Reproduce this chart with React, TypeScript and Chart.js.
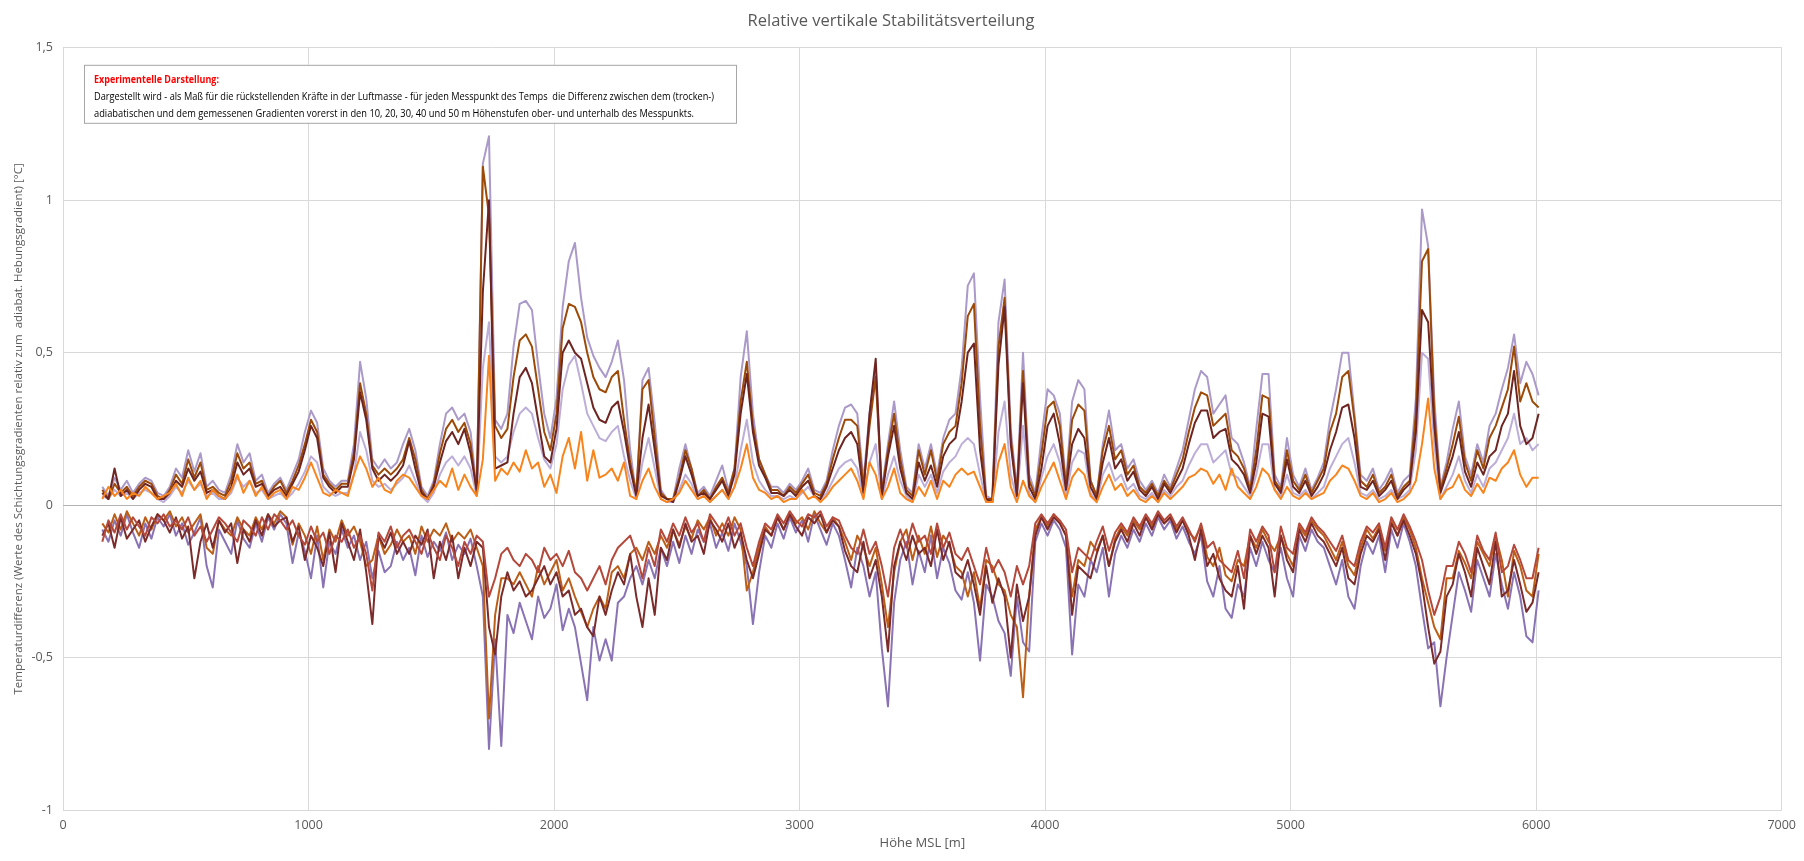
import React, { useEffect, useRef } from "react";
import { Chart, registerables } from "chart.js";

Chart.register(...registerables);

// Höhenstufen der Messpunkte (m MSL): alle 25 m von 160 bis 6010
const HEIGHT_START = 160;
const HEIGHT_STEP = 25;
const HEIGHT_COUNT = 235;
const heights: number[] = Array.from({ length: HEIGHT_COUNT }, (_, i) => HEIGHT_START + i * HEIGHT_STEP);

const xTicks = [0, 1000, 2000, 3000, 4000, 5000, 6000, 7000];
const yTicks = [-1, -0.5, 0, 0.5, 1, 1.5];

// Werte in 1/100 °C
const above50 = [
  6, 3, 9, 5, 8, 4, 7, 9, 8, 4, 3, 6, 12, 9, 18, 11, 17, 6, 8, 5,
  4, 10, 20, 14, 17, 8, 10, 4, 7, 9, 5, 10, 15, 24, 31, 27, 12, 8, 6, 8,
  8, 20, 47, 35, 15, 12, 15, 12, 14, 20, 25, 18, 6, 3, 8, 20, 30, 32, 28, 30,
  24, 5, 112, 121, 28, 25, 30, 52, 66, 67, 64, 46, 30, 22, 35, 65, 80, 86, 68, 55,
  49, 45, 42, 47, 54, 41, 18, 3, 41, 45, 27, 5, 2, 2, 12, 20, 12, 4, 6, 3,
  8, 13, 5, 12, 42, 57, 30, 15, 10, 6, 6, 4, 7, 5, 8, 12, 5, 4, 8, 18,
  26, 32, 33, 30, 8, 30, 45, 5, 20, 34, 18, 6, 4, 20, 12, 20, 10, 22, 28, 30,
  45, 72, 76, 35, 3, 2, 60, 74, 25, 5, 50, 10, 4, 22, 38, 36, 30, 7, 34, 41,
  38, 8, 3, 20, 31, 18, 20, 12, 15, 8, 5, 8, 4, 10, 6, 12, 18, 28, 38, 44,
  42, 30, 33, 36, 22, 20, 14, 6, 25, 43, 43, 10, 6, 22, 10, 6, 12, 5, 9, 14,
  28, 38, 50, 50, 30, 10, 8, 12, 5, 8, 12, 4, 8, 10, 35, 97, 85, 35, 6, 14,
  25, 34, 16, 10, 20, 14, 26, 30, 38, 45, 56, 40, 47, 43, 36,
];
const above40 = [
  5, 2, 7, 4, 6, 3, 6, 8, 7, 3, 2, 5, 10, 7, 15, 9, 14, 5, 6, 4,
  3, 8, 17, 12, 14, 7, 8, 3, 6, 8, 4, 8, 13, 20, 28, 24, 10, 7, 5, 7,
  7, 17, 40, 30, 13, 10, 12, 10, 12, 15, 22, 15, 5, 2, 7, 17, 25, 28, 24, 27,
  20, 4, 111, 95, 26, 22, 25, 42, 54, 56, 52, 38, 24, 18, 30, 58, 66, 65, 60, 50,
  42, 38, 37, 42, 44, 28, 14, 4, 38, 41, 22, 4, 2, 2, 9, 18, 12, 3, 5, 2,
  6, 9, 4, 12, 34, 47, 26, 15, 10, 5, 5, 3, 6, 4, 7, 10, 4, 3, 7, 15,
  22, 28, 28, 26, 6, 26, 42, 4, 18, 30, 15, 5, 3, 18, 10, 18, 8, 20, 24, 26,
  40, 62, 66, 26, 2, 2, 52, 68, 22, 4, 44, 8, 3, 17, 32, 34, 26, 6, 28, 33,
  31, 8, 3, 18, 26, 15, 18, 10, 13, 6, 4, 7, 3, 8, 5, 10, 15, 24, 32, 37,
  36, 26, 28, 30, 18, 16, 12, 5, 18, 36, 35, 8, 5, 18, 8, 5, 10, 4, 8, 12,
  24, 30, 42, 44, 28, 8, 6, 10, 4, 6, 10, 3, 6, 8, 30, 80, 84, 30, 5, 12,
  20, 29, 14, 8, 18, 12, 22, 26, 32, 38, 52, 34, 40, 34, 32,
];
const above30 = [
  4, 2, 12, 3, 5, 2, 5, 7, 6, 2, 2, 4, 8, 6, 12, 8, 11, 4, 5, 3,
  2, 6, 14, 10, 12, 6, 7, 3, 5, 6, 3, 7, 11, 18, 26, 22, 9, 6, 4, 6,
  6, 15, 37, 28, 12, 8, 10, 8, 10, 13, 21, 12, 4, 2, 6, 14, 21, 24, 20, 25,
  17, 5, 70, 100, 12, 13, 14, 30, 42, 45, 40, 28, 16, 14, 25, 50, 54, 50, 48, 40,
  32, 28, 27, 32, 34, 24, 12, 3, 22, 33, 18, 3, 2, 1, 8, 16, 10, 3, 4, 2,
  5, 8, 3, 10, 30, 43, 24, 13, 9, 4, 4, 3, 5, 3, 6, 8, 3, 2, 6, 12,
  18, 22, 24, 20, 4, 30, 48, 3, 16, 26, 12, 4, 2, 14, 8, 13, 6, 16, 20, 22,
  34, 50, 53, 18, 2, 1, 46, 65, 20, 3, 40, 6, 2, 12, 26, 30, 20, 5, 20, 25,
  22, 6, 2, 14, 22, 12, 15, 8, 11, 5, 3, 6, 2, 7, 4, 8, 12, 20, 27, 31,
  31, 22, 24, 25, 15, 13, 10, 4, 14, 30, 29, 7, 4, 15, 6, 4, 8, 3, 6, 10,
  18, 24, 32, 33, 22, 6, 5, 8, 3, 5, 8, 2, 5, 7, 24, 64, 60, 26, 4, 10,
  16, 24, 11, 6, 14, 10, 16, 18, 26, 30, 44, 26, 20, 22, 30,
];
const above20 = [
  3, 2, 5, 3, 4, 2, 4, 5, 4, 2, 1, 3, 6, 4, 8, 5, 7, 3, 4, 2,
  2, 4, 9, 6, 8, 4, 5, 2, 3, 4, 2, 4, 7, 11, 16, 14, 6, 4, 3, 4,
  4, 10, 24, 18, 8, 6, 7, 5, 7, 9, 13, 8, 3, 1, 4, 10, 14, 16, 13, 16,
  12, 3, 45, 60, 16, 14, 16, 24, 30, 32, 30, 22, 15, 12, 20, 38, 46, 49, 40, 30,
  26, 22, 21, 24, 26, 16, 8, 2, 14, 22, 12, 2, 1, 1, 5, 10, 7, 2, 3, 1,
  3, 5, 2, 6, 18, 28, 14, 8, 5, 3, 3, 2, 3, 2, 4, 6, 3, 2, 4, 8,
  12, 14, 15, 12, 3, 14, 20, 2, 10, 16, 8, 3, 1, 10, 6, 10, 4, 11, 14, 16,
  20, 22, 20, 10, 1, 1, 24, 34, 10, 2, 26, 4, 1, 9, 16, 20, 14, 3, 14, 18,
  17, 4, 1, 10, 14, 8, 10, 5, 7, 3, 2, 4, 1, 5, 3, 6, 8, 13, 17, 20,
  20, 14, 16, 18, 10, 9, 6, 3, 10, 20, 20, 5, 3, 10, 4, 3, 5, 2, 4, 6,
  12, 16, 20, 22, 14, 4, 3, 5, 2, 3, 5, 2, 3, 5, 18, 50, 48, 20, 2, 6,
  10, 16, 8, 4, 10, 6, 12, 14, 18, 22, 30, 20, 22, 18, 20,
];
const above10 = [
  2, 6, 3, 5, 2, 4, 3, 6, 4, 2, 3, 4, 7, 3, 9, 5, 8, 2, 5, 3,
  2, 5, 10, 4, 8, 3, 6, 2, 4, 5, 2, 6, 5, 9, 14, 9, 4, 3, 5, 4,
  3, 10, 16, 12, 6, 9, 5, 4, 8, 10, 9, 6, 3, 2, 5, 8, 6, 12, 5, 10,
  6, 3, 15, 49, 8, 12, 10, 14, 11, 18, 12, 14, 6, 10, 4, 16, 22, 12, 24, 8,
  18, 9, 10, 12, 8, 14, 3, 2, 8, 12, 6, 2, 1, 2, 4, 8, 5, 2, 3, 1,
  3, 5, 2, 6, 12, 20, 9, 5, 4, 2, 3, 1, 2, 2, 5, 2, 3, 1, 3, 6,
  8, 10, 12, 8, 2, 14, 10, 2, 6, 12, 4, 2, 1, 6, 3, 8, 2, 8, 6, 10,
  12, 10, 11, 6, 1, 1, 14, 20, 6, 1, 8, 3, 1, 6, 10, 14, 8, 2, 9, 12,
  10, 3, 1, 6, 10, 5, 7, 3, 5, 2, 1, 3, 1, 4, 2, 4, 6, 9, 10, 12,
  11, 7, 10, 5, 12, 6, 4, 2, 6, 12, 10, 5, 2, 6, 3, 2, 4, 2, 3, 4,
  8, 10, 13, 12, 8, 3, 2, 4, 1, 2, 4, 1, 2, 4, 8, 20, 35, 12, 2, 5,
  6, 10, 5, 3, 7, 4, 9, 8, 12, 14, 18, 10, 6, 9, 9,
];
const below50 = [
  -8, -12, -5, -10, -3, -9, -14, -6, -11, -4, -7, -3, -10, -6, -13, -9, -4, -20, -27, -8,
  -12, -16, -5, -11, -14, -6, -12, -4, -8, -3, -6, -19, -9, -15, -24, -10, -27, -12, -16, -8,
  -14, -10, -18, -12, -24, -15, -22, -20, -12, -18, -14, -23, -10, -17, -12, -15, -9, -18, -13, -16,
  -11, -20, -30, -80, -44, -79, -36, -42, -32, -38, -44, -30, -37, -34, -26, -41, -34, -40, -52, -64,
  -40, -51, -44, -51, -32, -30, -24, -20, -26, -18, -24, -14, -20, -12, -19, -10, -16, -8, -12, -6,
  -14, -9, -15, -6, -12, -20, -39, -22, -10, -14, -6, -11, -4, -9, -5, -12, -3, -8, -13, -6,
  -10, -18, -27, -14, -20, -30, -22, -47, -66, -32, -18, -12, -26, -15, -22, -10, -24, -14, -19, -28,
  -31, -22, -32, -51, -26, -30, -38, -42, -56, -30, -45, -48, -12, -6, -10, -5, -8, -14, -49, -26,
  -30, -18, -22, -14, -30, -16, -10, -14, -8, -12, -6, -10, -4, -8, -5, -11, -7, -12, -16, -10,
  -25, -30, -20, -34, -37, -26, -30, -14, -20, -12, -18, -22, -14, -24, -30, -10, -15, -8, -12, -14,
  -20, -26, -18, -30, -34, -20, -12, -16, -10, -22, -8, -14, -6, -12, -20, -34, -47, -45, -66, -50,
  -36, -22, -28, -35, -18, -24, -30, -16, -26, -34, -22, -30, -43, -45, -28,
];
const below40 = [
  -10, -6, -14, -4, -11, -8, -5, -12, -7, -3, -5, -9, -4, -11, -7, -24, -12, -6, -14, -5,
  -9, -6, -19, -8, -12, -5, -10, -3, -7, -5, -4, -12, -7, -18, -10, -14, -20, -9, -22, -6,
  -12, -18, -8, -22, -39, -10, -14, -9, -16, -12, -16, -10, -13, -8, -24, -12, -18, -10, -24, -14,
  -20, -12, -14, -40, -49, -30, -22, -28, -25, -30, -28, -24, -20, -26, -22, -30, -28, -36, -34, -40,
  -43, -30, -36, -28, -22, -26, -16, -30, -40, -24, -36, -14, -18, -8, -14, -6, -12, -10, -16, -5,
  -8, -12, -6, -14, -9, -18, -24, -16, -8, -10, -4, -8, -3, -7, -10, -4, -6, -3, -9, -5,
  -7, -15, -20, -22, -12, -24, -18, -30, -48, -20, -12, -18, -10, -16, -14, -20, -8, -18, -12, -22,
  -24, -18, -26, -36, -20, -32, -24, -30, -50, -26, -38, -30, -10, -4, -8, -4, -6, -10, -36, -20,
  -22, -24, -16, -10, -20, -12, -8, -12, -6, -10, -4, -8, -3, -6, -4, -9, -5, -10, -18, -8,
  -20, -16, -24, -28, -30, -20, -34, -10, -16, -10, -14, -30, -10, -18, -22, -8, -12, -6, -10, -12,
  -16, -20, -14, -24, -26, -16, -10, -12, -8, -18, -6, -10, -5, -10, -16, -26, -40, -52, -48, -30,
  -26, -16, -22, -30, -14, -20, -26, -12, -30, -28, -18, -26, -35, -32, -22,
];
const below30 = [
  -6, -9, -3, -8, -2, -6, -10, -4, -8, -3, -5, -2, -7, -4, -9, -6, -3, -14, -16, -5,
  -8, -10, -4, -8, -10, -4, -8, -3, -6, -2, -4, -13, -6, -10, -16, -7, -18, -8, -12, -5,
  -10, -7, -12, -20, -18, -10, -16, -13, -8, -12, -10, -16, -7, -12, -8, -10, -6, -12, -9, -11,
  -8, -14, -20, -70, -36, -24, -24, -26, -22, -26, -30, -20, -26, -22, -18, -28, -24, -30, -35, -40,
  -34, -30, -34, -22, -20, -24, -16, -14, -18, -12, -16, -10, -14, -8, -13, -7, -11, -5, -8, -4,
  -10, -6, -10, -4, -8, -28, -22, -14, -7, -10, -4, -8, -3, -6, -4, -8, -2, -6, -9, -4,
  -7, -12, -18, -10, -14, -20, -14, -26, -40, -22, -12, -8, -18, -10, -16, -7, -17, -10, -13, -20,
  -22, -30, -22, -34, -18, -20, -26, -28, -36, -40, -63, -30, -8, -4, -7, -3, -6, -10, -30, -18,
  -20, -12, -15, -10, -20, -11, -7, -10, -5, -8, -4, -7, -3, -6, -4, -8, -5, -9, -11, -7,
  -17, -20, -14, -23, -25, -18, -20, -10, -14, -8, -12, -15, -10, -16, -20, -7, -10, -5, -8, -10,
  -14, -18, -12, -20, -23, -14, -8, -11, -7, -15, -5, -10, -4, -8, -14, -24, -32, -40, -44, -24,
  -24, -15, -19, -24, -12, -16, -20, -10, -18, -30, -15, -20, -28, -30, -16,
];
const below20 = [
  -12, -5, -9, -3, -8, -4, -7, -10, -4, -6, -3, -7, -5, -8, -4, -10, -7, -12, -8, -4,
  -6, -9, -12, -5, -7, -10, -4, -8, -3, -5, -8, -5, -10, -13, -7, -12, -9, -16, -10, -12,
  -8, -14, -10, -16, -28, -9, -12, -7, -14, -10, -8, -12, -16, -9, -14, -18, -10, -14, -20, -12,
  -16, -10, -12, -30, -24, -16, -14, -18, -20, -16, -18, -22, -14, -18, -16, -20, -15, -22, -24, -28,
  -24, -20, -26, -18, -14, -12, -10, -16, -24, -14, -20, -8, -12, -6, -10, -4, -9, -6, -12, -3,
  -6, -9, -4, -10, -6, -14, -20, -12, -6, -8, -3, -6, -2, -5, -7, -3, -4, -2, -7, -4,
  -5, -10, -14, -16, -8, -16, -12, -20, -30, -14, -8, -14, -6, -12, -10, -16, -6, -14, -9, -16,
  -18, -14, -20, -26, -14, -22, -18, -22, -30, -20, -26, -20, -6, -3, -6, -3, -5, -8, -22, -14,
  -16, -18, -12, -7, -15, -9, -6, -9, -4, -7, -3, -6, -2, -5, -3, -7, -4, -8, -12, -6,
  -14, -12, -18, -20, -22, -15, -24, -8, -12, -7, -10, -22, -7, -14, -16, -6, -9, -4, -7, -9,
  -12, -15, -10, -18, -20, -12, -7, -9, -6, -14, -4, -8, -3, -7, -12, -18, -28, -36, -30, -20,
  -20, -12, -16, -22, -10, -15, -18, -9, -22, -20, -13, -18, -24, -24, -14,
];

const noteTitle = "Experimentelle Darstellung:";
const noteLines = [
  "Dargestellt wird - als Maß für die rückstellenden Kräfte in der Luftmasse - für jeden Messpunkt des Temps  die Differenz zwischen dem (trocken-)",
  "adiabatischen und dem gemessenen Gradienten vorerst in den 10, 20, 30, 40 und 50 m Höhenstufen ober- und unterhalb des Messpunkts.",
];

const FONT = "'Open Sans', 'Liberation Sans', sans-serif";

// Textfeld oben links im Diagramm
const notePlugin = {
  id: "noteBox",
  afterDatasetsDraw(chart: any) {
    const { ctx, chartArea } = chart;
    const x = chartArea.left + 21;
    const y = chartArea.top + 17;
    ctx.save();
    ctx.fillStyle = "#ffffff";
    ctx.fillRect(x, y, 652, 58);
    ctx.strokeStyle = "#a6a6a6";
    ctx.lineWidth = 1;
    ctx.strokeRect(x + 0.5, y + 0.5, 652, 58);
    ctx.textBaseline = "middle";
    ctx.textAlign = "left";
    ctx.fillStyle = "#ff0000";
    ctx.font = `bold 11px ${FONT}`;
    ctx.fillText(noteTitle, x + 10, y + 15, 125);
    ctx.fillStyle = "#000000";
    ctx.font = `11.5px ${FONT}`;
    ctx.fillText(noteLines[0], x + 10, y + 32, 620);
    ctx.fillText(noteLines[1], x + 10, y + 49, 600);
    ctx.restore();
  },
};

function toPoints(values: number[]) {
  return heights.map((h, i) => ({ x: h, y: values[i] / 100 }));
}

function line(label: string, values: number[], color: string) {
  return {
    label,
    data: toPoints(values),
    borderColor: color,
    backgroundColor: color,
    borderWidth: 2,
    pointRadius: 0,
    fill: false,
    tension: 0,
    borderJoinStyle: "round" as const,
  };
}

export default function App() {
  const canvasRef = useRef<HTMLCanvasElement>(null);
  const chartRef = useRef<Chart | null>(null);

  useEffect(() => {
    if (!canvasRef.current) return;
    if (chartRef.current) chartRef.current.destroy();

    chartRef.current = new Chart(canvasRef.current, {
      type: "line",
      data: {
        datasets: [
          line("10 m oberhalb", above10, "#f7841c"),
          line("30 m oberhalb", above30, "#6e2522"),
          line("40 m oberhalb", above40, "#9c4a08"),
          line("20 m unterhalb", below20, "#b4483b"),
          line("40 m unterhalb", below40, "#7c2b2b"),
          line("30 m unterhalb", below30, "#bb5f18"),
          line("20 m oberhalb", above20, "#bcaed8"),
          line("50 m oberhalb", above50, "#ab9ac9"),
          line("50 m unterhalb", below50, "#8a73b5"),
        ],
      },
      options: {
        animation: false,
        responsive: true,
        maintainAspectRatio: false,
        layout: { padding: { left: 0, right: 22, top: 0, bottom: 0 } },
        plugins: {
          legend: { display: false },
          tooltip: { enabled: false },
          title: {
            display: true,
            text: "Relative vertikale Stabilitätsverteilung",
            color: "#595959",
            font: { family: FONT, size: 16.5, weight: "normal" },
            padding: { top: 11, bottom: 17 },
          },
        },
        scales: {
          x: {
            type: "linear",
            min: 0,
            max: 7000,
            afterBuildTicks: (scale: any) => {
              scale.ticks = xTicks.map((v) => ({ value: v }));
            },
            ticks: {
              color: "#595959",
              font: { family: FONT, size: 12.5 },
              padding: 8,
              maxRotation: 0,
              callback: (v: any) => String(v),
            },
            grid: { color: "#d9d9d9", drawTicks: false },
            border: { display: false },
            title: {
              display: true,
              text: "Höhe MSL [m]",
              color: "#595959",
              font: { family: FONT, size: 13 },
              padding: { top: 4, bottom: 10 },
            },
            afterFit: (scale: any) => {
              scale.height = 51;
            },
          },
          y: {
            type: "linear",
            min: -1,
            max: 1.5,
            afterBuildTicks: (scale: any) => {
              scale.ticks = yTicks.map((v) => ({ value: v }));
            },
            ticks: {
              color: "#595959",
              font: { family: FONT, size: 12.5 },
              padding: 10,
              callback: (v: any) => String(v).replace(".", ","),
            },
            grid: {
              color: (c: any) => (c.tick && c.tick.value === 0 ? "#b3b3b3" : "#d9d9d9"),
              drawTicks: false,
            },
            border: { display: false },
            title: {
              display: true,
              text: "Temperaturdifferenz (Werte des Schichtungsgradienten relativ zum  adiabat. Hebungsgradient) [°C]",
              color: "#595959",
              font: { family: FONT, size: 11.5 },
              padding: { top: 12, bottom: 0 },
            },
            afterFit: (scale: any) => {
              scale.width = 63;
            },
          },
        },
      },
      plugins: [notePlugin],
    });

    return () => {
      if (chartRef.current) {
        chartRef.current.destroy();
        chartRef.current = null;
      }
    };
  }, []);

  return (
    <div style={{ position: "fixed", left: 0, top: 0, width: 1804, height: 861, background: "#ffffff" }}>
      <canvas ref={canvasRef}></canvas>
    </div>
  );
}
